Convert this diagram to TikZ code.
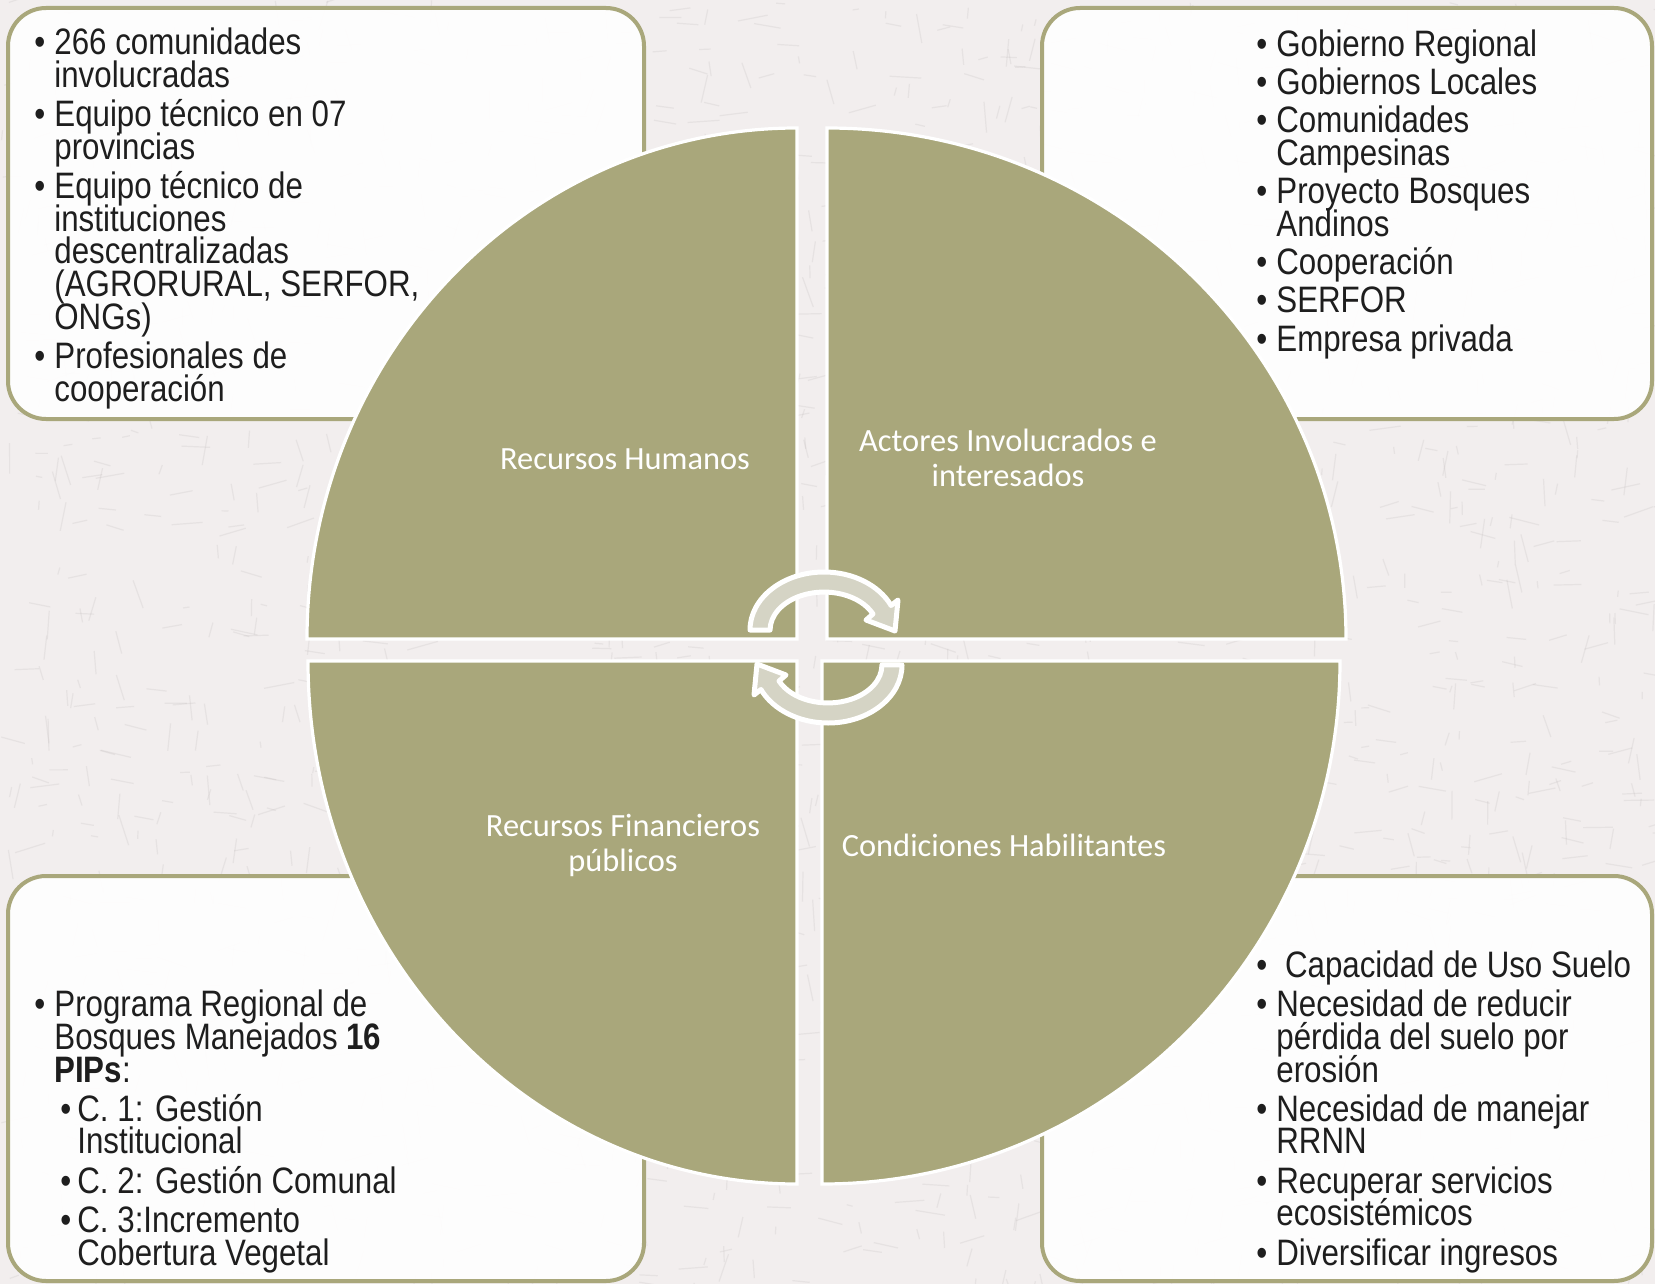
\documentclass[tikz,border=0pt]{standalone}
\usepackage{fontspec}
\usepackage{xcolor}
\usepackage{tikz}
\usetikzlibrary{positioning}

\setmainfont{Liberation Sans}
\newfontfamily\narrowfont[FakeStretch=0.85]{Liberation Sans}
\newfontfamily\calfont{Carlito}

\definecolor{olive}{RGB}{169,167,123}
\definecolor{paper}{RGB}{242,238,238}
\definecolor{grain}{RGB}{190,184,184}
\definecolor{loopfill}{RGB}{213,212,197}
\definecolor{ink}{RGB}{30,30,30}

\newcommand{\bl}{\makebox[10pt][l]{\textbullet}}
\newcommand{\ind}{\hspace*{10pt}}
\newcommand{\sbl}{\hspace*{13pt}\makebox[8.5pt][l]{\textbullet}}
\newcommand{\sind}{\hspace*{21.5pt}}
\setlength{\lineskiplimit}{-50pt}

\begin{document}
\begin{tikzpicture}[
    x=0.5pt, y=-0.5pt,
    panel/.style={draw=olive, line width=2pt, fill=white, fill opacity=0.92, rounded corners=19pt},
    quad/.style={fill=olive, draw=white, line width=1.6pt},
    qlabel/.style={text=white, align=center, font=\calfont\fontsize{16.2}{17.5}\selectfont},
    list/.style={anchor=base west, inner sep=0pt, text=ink, align=left,
        font=\narrowfont\fontsize{18.4}{16.35}\selectfont},
    cyc/.style={fill=loopfill, draw=white, line width=2.5pt, line join=round}
]
    \useasboundingbox (0,0) rectangle (1655,1284);
    \fill[paper] (0,0) rectangle (1655,1284);

    % paper grain
    \begin{scope}
        \clip (0,0) rectangle (1655,1284);
        \pgfmathsetseed{11}
        \foreach \i in {1,...,2200}{
            \pgfmathsetmacro\gx{rnd*1655}
            \pgfmathsetmacro\gy{rnd*1284}
            \pgfmathsetmacro\gdir{90*round(rnd)+(rnd-0.5)*40}
            \pgfmathsetmacro\glen{6+rnd*26}
            \draw[grain, line width=0.6pt, opacity=0.22] (\gx,\gy) -- ++(\gdir:\glen);
        }
    \end{scope}

    % side panels
    \draw[panel] (8,8) rectangle (644,419);
    \draw[panel] (1042,8) rectangle (1652,419);
    \draw[panel] (8,876) rectangle (644,1281);
    \draw[panel] (1042,876) rectangle (1652,1281);

    % lists (placed on the baseline of their last line)
    \node[list] (hum) at (34,401) {\bl 266 comunidades\\
        \ind involucradas\\[3.25pt]
        \bl Equipo técnico en 07\\
        \ind provincias\\[3.25pt]
        \bl Equipo técnico de\\
        \ind instituciones\\
        \ind descentralizadas\\
        \ind (AGRORURAL,  SERFOR,\\
        \ind ONGs)\\[3.25pt]
        \bl Profesionales de\\
        \ind cooperación};

    \node[list] (act) at (1256,351) {\bl Gobierno Regional\\[2.75pt]
        \bl Gobiernos Locales\\[2.75pt]
        \bl Comunidades\\
        \ind Campesinas\\[2.75pt]
        \bl Proyecto Bosques\\
        \ind Andinos\\[2.75pt]
        \bl Cooperación\\[2.75pt]
        \bl SERFOR\\[2.75pt]
        \bl Empresa privada};

    \node[list] (fin) at (34,1265) {\bl Programa Regional de\\
        \ind Bosques Manejados \textbf{16}\\
        \ind \textbf{PIPs}:\\[3.25pt]
        \sbl C. 1: Gestión\\
        \sind Institucional\\[3.25pt]
        \sbl C. 2: Gestión Comunal\\[3.25pt]
        \sbl C. 3:Incremento\\
        \sind Cobertura Vegetal};

    \node[list] (cond) at (1256,1265) {\bl\ Capacidad de Uso Suelo\\[3.25pt]
        \bl Necesidad de reducir\\
        \ind pérdida del suelo por\\
        \ind erosión\\[3.25pt]
        \bl Necesidad de manejar\\
        \ind RRNN\\[3.25pt]
        \bl Recuperar servicios\\
        \ind ecosistémicos\\[3.25pt]
        \bl Diversificar ingresos};

    % quarters
    \draw[quad] (797,639) -- (307,639) arc[start angle=180, end angle=270, x radius=490, y radius=511] -- cycle;
    \draw[quad] (827,639) -- (827,128) arc[start angle=270, end angle=360, x radius=519, y radius=511] -- cycle;
    \draw[quad] (822,661) -- (1340,661) arc[start angle=0, end angle=90, x radius=518, y radius=523] -- cycle;
    \draw[quad] (797,661) -- (797,1184) arc[start angle=90, end angle=180, x radius=489, y radius=523] -- cycle;

    \node[qlabel] (rh) at (625,459) {Recursos Humanos};
    \node[qlabel] (ai) at (1008,458) {Actores Involucrados e\\interesados};
    \node[qlabel] (rf) at (623,845) {Recursos Financieros\\públicos};
    \node[qlabel] (ch) at (1004,845) {Condiciones Habilitantes};

    % cycle arrows
    \draw[cyc] (750,630) arc[start angle=180, end angle=335, x radius=74, y radius=58]
        -- (898,600) -- (895,631) -- (866,620) -- (873,614)
        arc[start angle=335, end angle=180, x radius=54, y radius=38] -- cycle;
    \draw[cyc] (902,665) arc[start angle=0, end angle=155, x radius=74, y radius=58]
        -- (754,695) -- (757,664) -- (786,675) -- (779,681)
        arc[start angle=155, end angle=0, x radius=54, y radius=38] -- cycle;
\end{tikzpicture}
\end{document}
